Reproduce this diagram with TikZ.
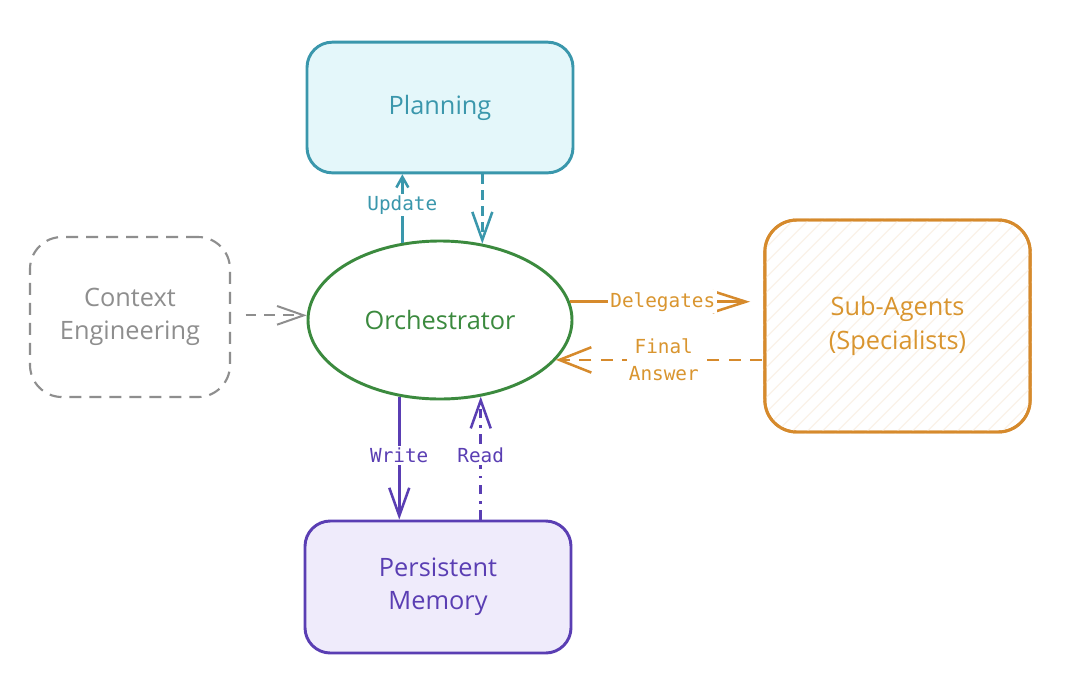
\documentclass[tikz,border=0pt]{standalone}
\usepackage{fontspec}
\setmainfont{Open Sans}
\newfontfamily\labfont{DejaVu Sans Mono}
\usetikzlibrary{arrows.meta,shapes.geometric,calc}
\definecolor{teal1}{HTML}{3A97AC}
\definecolor{tealfill}{HTML}{E4F7FA}
\definecolor{green1}{HTML}{3B8A3E}
\definecolor{gray1}{HTML}{8E8E8E}
\definecolor{orange1}{HTML}{D68A2C}
\definecolor{orangetext}{HTML}{D9952F}
\definecolor{purple1}{HTML}{5A3EB3}
\definecolor{purplefill}{HTML}{EFEBFB}
\tikzset{
  px/.style={x=0.75pt,y=-0.75pt},
  boxtext/.style={font=\fontsize{19}{25}\selectfont, align=center},
  card/.style={rectangle, rounded corners=19pt, line width=2.2pt, inner sep=0pt, boxtext},
  lab/.style={font=\labfont\fontsize{14.5}{20}\selectfont, fill=white, inner sep=1.5pt, align=center},
  conn/.style={line width=1.9pt},
  bighead/.style={-{Straight Barb[length=21pt,width=15pt,line width=1.9pt]}},
}
\begin{document}
\begin{tikzpicture}[px]
\useasboundingbox (0,0) rectangle (1080,689);
\fill[white] (0,0) rectangle (1080,689);

% nodes
\node[card, draw=teal1, fill=tealfill, text=teal1, minimum width=199.5pt, minimum height=98pt] (plan) at (440,107.5) {Planning};
\node[ellipse, draw=green1, line width=2.2pt, fill=white, text=green1, boxtext, minimum width=198pt, minimum height=118.5pt, inner sep=0pt] (orch) at (440,320) {Orchestrator};
\node[card, draw=gray1, dashed, dash pattern=on 9pt off 6pt, line width=1.6pt, text=gray1, rounded corners=24pt, minimum width=150pt, minimum height=120pt] (ctx) at (130,317) {Context\\Engineering};
\node[card, draw=orange1, fill=white, text=orangetext, rounded corners=24pt, minimum width=199pt, minimum height=159pt] (sub) at (897.5,326) {};
\begin{scope}
  \clip[rounded corners=24pt] (sub.south west) rectangle (sub.north east);
  \foreach \k in {-300,-285,...,300} {
    \draw[orange1!12, line width=0.8pt] ($(sub.center)+(\k,0)+(-120,120)$) -- ($(sub.center)+(\k,0)+(120,-120)$);
  }
\end{scope}
\node[card, draw=orange1, text=orangetext, rounded corners=24pt, minimum width=199pt, minimum height=159pt] at (sub.center) {Sub-Agents\\(Specialists)};
\node[card, draw=purple1, fill=purplefill, text=purple1, minimum width=199.5pt, minimum height=99pt] (mem) at (438,587) {Persistent\\Memory};

% connectors
\draw[conn, teal1, -{Straight Barb[length=8pt,width=9pt,line width=1.9pt]}] (orch.116.7) -- (plan.south -| orch.116.7)
  node[lab, text=teal1, pos=0.55] {Update};
\draw[conn, teal1, dashed, dash pattern=on 7pt off 5pt, bighead] (plan.south -| orch.61.4) -- (orch.61.4);
\draw[conn, gray1, line width=1.5pt, dashed, dash pattern=on 8pt off 6pt, -{Straight Barb[length=20pt,width=14pt,line width=1.5pt]}, shorten <=11pt] (ctx.east |- orch.178) -- (orch.178);
\draw[conn, orange1, -{Straight Barb[length=25pt,width=16pt,line width=1.9pt]}, shorten >=10pt] (orch.8.4) -- (orch.8.4 -| sub.west)
  node[lab, text=orangetext, pos=0.48] {Delegates};
\draw[conn, orange1, dashed, dash pattern=on 9pt off 7pt, -{Straight Barb[length=24pt,width=19pt,line width=1.9pt]}, shorten <=1pt] (sub.west |- orch.-19.4) -- (orch.-19.4)
  node[lab, text=orangetext, pos=0.48] {Final\\Answer};
\draw[conn, purple1, bighead] (orch.242) -- (mem.north -| orch.242)
  node[lab, text=purple1, pos=0.48] {Write};
\draw[conn, purple1, dash pattern=on 7pt off 5pt on 2pt off 5pt, bighead] (mem.north -| orch.298) -- (orch.298)
  node[lab, text=purple1, pos=0.52] {Read};
\end{tikzpicture}
\end{document}
